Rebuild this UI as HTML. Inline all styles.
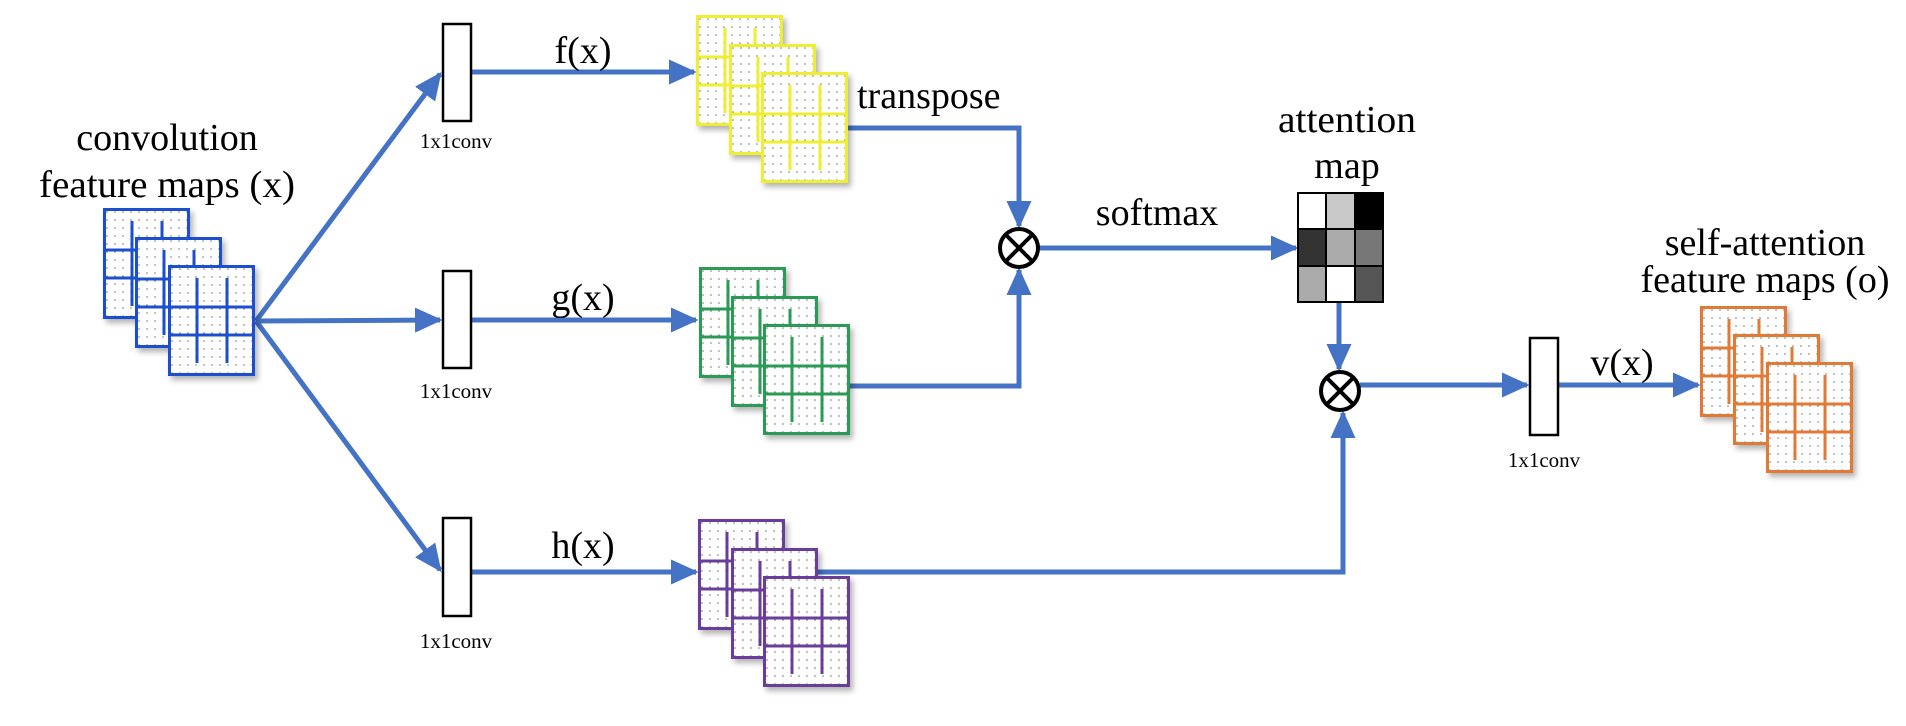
<!DOCTYPE html>
<html><head><meta charset="utf-8"><style>
html,body{margin:0;padding:0;background:#fff;width:1906px;height:726px;overflow:hidden}
svg{display:block}
svg text{font-family:"Liberation Serif","Times New Roman","DejaVu Serif",serif;fill:#000}
</style></head><body>
<svg width="1906" height="726" viewBox="0 0 1906 726" xmlns="http://www.w3.org/2000/svg">
<defs>
<pattern id="dots" width="8" height="8" patternUnits="userSpaceOnUse">
<rect width="8" height="8" fill="#fff"/><circle cx="4" cy="4" r="0.8" fill="#777"/>
</pattern>
<filter id="sh" x="-20%" y="-20%" width="150%" height="150%"><feDropShadow dx="3" dy="4" stdDeviation="3" flood-color="#000" flood-opacity="0.3"/></filter>
<marker id="ar" markerWidth="6" markerHeight="6" refX="5" refY="3" orient="auto" markerUnits="strokeWidth"><path d="M0,0.5 L5.5,3 L0,5.5 Z" fill="#4472c4"/></marker>
<symbol id="map" viewBox="0 0 87 111" width="87" height="111" overflow="visible">
<rect x="1.5" y="1.5" width="84" height="108" fill="url(#dots)" stroke="currentColor" stroke-width="3"/>
<line x1="1" y1="42" x2="86" y2="42" stroke="currentColor" stroke-width="3"/>
<line x1="1" y1="70" x2="86" y2="70" stroke="currentColor" stroke-width="3"/>
<line x1="29" y1="13" x2="29" y2="98" stroke="currentColor" stroke-width="3"/>
<line x1="59" y1="13" x2="59" y2="98" stroke="currentColor" stroke-width="3"/>
</symbol>
</defs>

<g fill="none" stroke="#4472c4" stroke-width="5">
<line x1="256" y1="321" x2="440" y2="74" marker-end="url(#ar)"/>
<line x1="256" y1="321" x2="440" y2="320" marker-end="url(#ar)"/>
<line x1="256" y1="321" x2="440" y2="570" marker-end="url(#ar)"/>
<line x1="471" y1="72" x2="694" y2="72" marker-end="url(#ar)"/>
<line x1="471" y1="320" x2="696" y2="320" marker-end="url(#ar)"/>
<line x1="471" y1="572" x2="696" y2="572" marker-end="url(#ar)"/>
<polyline points="848,128 1019,128 1019,226" marker-end="url(#ar)"/>
<polyline points="850,386 1019,386 1019,270" marker-end="url(#ar)"/>
<line x1="1039" y1="248" x2="1296" y2="248" marker-end="url(#ar)"/>
<line x1="1339" y1="302" x2="1339" y2="369" marker-end="url(#ar)"/>
<polyline points="818,572 1343,572 1343,413" marker-end="url(#ar)"/>
<line x1="1360" y1="385" x2="1527" y2="385" marker-end="url(#ar)"/>
<line x1="1558" y1="385" x2="1698" y2="385" marker-end="url(#ar)"/>
</g>

<g filter="url(#sh)">
<use href="#map" x="103" y="208" style="color:#1f4fd0"/>
<use href="#map" x="135" y="237" style="color:#1f4fd0"/>
<use href="#map" x="168" y="265" style="color:#1f4fd0"/>
<use href="#map" x="696" y="15" style="color:#eeee30"/>
<use href="#map" x="729" y="44" style="color:#eeee30"/>
<use href="#map" x="761" y="72" style="color:#eeee30"/>
<use href="#map" x="699" y="267" style="color:#2a9a55"/>
<use href="#map" x="731" y="296" style="color:#2a9a55"/>
<use href="#map" x="763" y="324" style="color:#2a9a55"/>
<use href="#map" x="698" y="519" style="color:#6b3d9a"/>
<use href="#map" x="731" y="548" style="color:#6b3d9a"/>
<use href="#map" x="763" y="576" style="color:#6b3d9a"/>
<use href="#map" x="1700" y="306" style="color:#e07a35"/>
<use href="#map" x="1733" y="334" style="color:#e07a35"/>
<use href="#map" x="1766" y="362" style="color:#e07a35"/>
</g>

<g fill="#fff" stroke="#000" stroke-width="2.5">
<rect x="443" y="24" width="28" height="97"/>
<rect x="443" y="271" width="28" height="97"/>
<rect x="443" y="518" width="28" height="98"/>
<rect x="1530" y="338" width="28" height="97"/>
</g>

<g stroke="#000" stroke-width="2">
<rect x="1298" y="193" width="28" height="36" fill="#fff"/>
<rect x="1326" y="193" width="29" height="36" fill="#c8c8c8"/>
<rect x="1355" y="193" width="28" height="36" fill="#000"/>
<rect x="1298" y="229" width="28" height="37" fill="#333"/>
<rect x="1326" y="229" width="29" height="37" fill="#aaa"/>
<rect x="1355" y="229" width="28" height="37" fill="#777"/>
<rect x="1298" y="266" width="28" height="36" fill="#aaa"/>
<rect x="1326" y="266" width="29" height="36" fill="#fff"/>
<rect x="1355" y="266" width="28" height="36" fill="#555"/>
</g>

<g fill="#fff" stroke="#000" stroke-width="4">
<circle cx="1019" cy="248" r="19"/>
<line x1="1006" y1="235" x2="1032" y2="261"/><line x1="1032" y1="235" x2="1006" y2="261"/>
<circle cx="1340" cy="391" r="19"/>
<line x1="1327" y1="378" x2="1353" y2="404"/><line x1="1353" y1="378" x2="1327" y2="404"/>
</g>

<g font-size="38" text-anchor="middle" font-family="Liberation Serif, serif">
<text x="167" y="150">convolution</text>
<text x="167" y="197" textLength="256" lengthAdjust="spacingAndGlyphs">feature maps (x)</text>
<text x="583" y="63">f(x)</text>
<text x="583" y="310">g(x)</text>
<text x="583" y="558">h(x)</text>
<text x="1622" y="375">v(x)</text>
<text x="1157" y="225">softmax</text>
<text x="1347" y="132" textLength="138" lengthAdjust="spacingAndGlyphs">attention</text>
<text x="1347" y="178">map</text>
<text x="1765" y="255">self-attention</text>
<text x="1765" y="292">feature maps (o)</text>
<text x="857" y="108" text-anchor="start">transpose</text>
</g>
<g font-size="21" text-anchor="middle" font-family="Liberation Serif, serif">
<text x="456" y="148">1x1conv</text>
<text x="456" y="398">1x1conv</text>
<text x="456" y="648">1x1conv</text>
<text x="1544" y="467">1x1conv</text>
</g>
</svg>
</body></html>
